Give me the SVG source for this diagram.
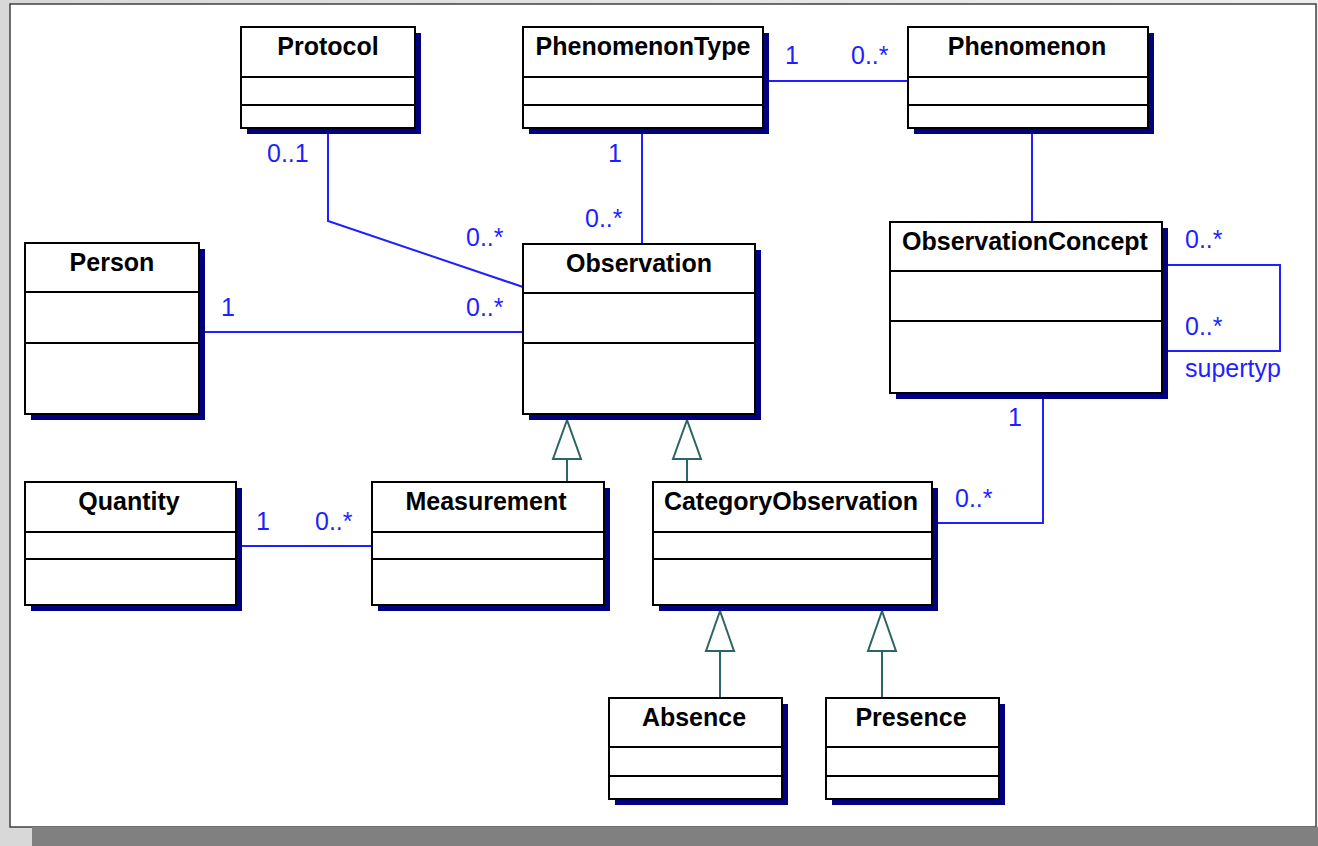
<svg xmlns="http://www.w3.org/2000/svg" width="1318" height="846" viewBox="0 0 1318 846">
<defs>
<linearGradient id="bg" x1="0" y1="0" x2="1" y2="0">
<stop offset="0" stop-color="#d8d8d8"/>
<stop offset="1" stop-color="#eeeeee"/>
</linearGradient>
</defs>
<style>
.box{fill:#ffffff;stroke:#000000;stroke-width:2}
.shd{fill:#000080}
.div{stroke:#000000;stroke-width:2}
.name{font-family:"Liberation Sans",Arial,sans-serif;font-weight:bold;font-size:25px;fill:#000000;text-anchor:middle}
.assoc{fill:none;stroke:#1f1fff;stroke-width:2}
.gen{fill:none;stroke:#2d6464;stroke-width:2}
.tri{fill:#ffffff;stroke:#2d6464;stroke-width:2;stroke-linejoin:miter}
.lbl{font-family:"Liberation Sans",Arial,sans-serif;font-size:25px;fill:#1f1fff}
</style>
<rect x="0" y="0" width="1318" height="846" fill="url(#bg)"/>
<rect x="10" y="4" width="1306" height="823" fill="#ffffff" stroke="#404040" stroke-width="1.5"/>
<rect x="32" y="827" width="1286" height="19" fill="#808080"/>

<g id="connectors">
<path class="assoc" d="M768 81 H908"/>
<path class="assoc" d="M642 133 V244"/>
<path class="assoc" d="M328 133 V221 L523 287"/>
<path class="assoc" d="M204 332 H523"/>
<path class="assoc" d="M1032 133 V222"/>
<path class="assoc" d="M1167 265 H1280 V351 H1167"/>
<path class="assoc" d="M1043 398 V523 H937"/>
<path class="assoc" d="M241 546 H372"/>
<path class="gen" d="M567 459 V482"/>
<polygon class="tri" points="567,420 553,459 581,459"/>
<path class="gen" d="M687 459 V482"/>
<polygon class="tri" points="687,420 673,459 701,459"/>
<path class="gen" d="M720 651 V698"/>
<polygon class="tri" points="720,611 706,651 734,651"/>
<path class="gen" d="M882 651 V698"/>
<polygon class="tri" points="882,611 868,651 896,651"/>
<text class="lbl" x="792" y="64" text-anchor="middle">1</text>
<text class="lbl" x="851" y="64">0..*</text>
<text class="lbl" x="615" y="162" text-anchor="middle">1</text>
<text class="lbl" x="585" y="227">0..*</text>
<text class="lbl" x="267" y="162">0..1</text>
<text class="lbl" x="466" y="246">0..*</text>
<text class="lbl" x="228" y="316" text-anchor="middle">1</text>
<text class="lbl" x="466" y="316">0..*</text>
<text class="lbl" x="1185" y="248">0..*</text>
<text class="lbl" x="1185" y="335">0..*</text>
<text class="lbl" x="1185" y="377">supertyp</text>
<text class="lbl" x="1015" y="426" text-anchor="middle">1</text>
<text class="lbl" x="955" y="507">0..*</text>
<text class="lbl" x="263" y="530" text-anchor="middle">1</text>
<text class="lbl" x="315" y="530">0..*</text>
</g>

<g id="Protocol">
<rect class="shd" x="247" y="33" width="174" height="101"/>
<rect class="box" x="241" y="27" width="174" height="101"/>
<line class="div" x1="241" y1="77" x2="415" y2="77"/>
<line class="div" x1="241" y1="105" x2="415" y2="105"/>
<text class="name" x="328" y="55">Protocol</text>
</g>

<g id="PhenomenonType">
<rect class="shd" x="529" y="33" width="240" height="101"/>
<rect class="box" x="523" y="27" width="240" height="101"/>
<line class="div" x1="523" y1="77" x2="763" y2="77"/>
<line class="div" x1="523" y1="105" x2="763" y2="105"/>
<text class="name" x="643" y="55">PhenomenonType</text>
</g>

<g id="Phenomenon">
<rect class="shd" x="914" y="33" width="240" height="101"/>
<rect class="box" x="908" y="27" width="240" height="101"/>
<line class="div" x1="908" y1="77" x2="1148" y2="77"/>
<line class="div" x1="908" y1="105" x2="1148" y2="105"/>
<text class="name" x="1027" y="55">Phenomenon</text>
</g>

<g id="Person">
<rect class="shd" x="31" y="249" width="174" height="171"/>
<rect class="box" x="25" y="243" width="174" height="171"/>
<line class="div" x1="25" y1="292" x2="199" y2="292"/>
<line class="div" x1="25" y1="343" x2="199" y2="343"/>
<text class="name" x="112" y="271">Person</text>
</g>

<g id="Observation">
<rect class="shd" x="529" y="250" width="232" height="170"/>
<rect class="box" x="523" y="244" width="232" height="170"/>
<line class="div" x1="523" y1="293" x2="755" y2="293"/>
<line class="div" x1="523" y1="343" x2="755" y2="343"/>
<text class="name" x="639" y="272">Observation</text>
</g>

<g id="ObservationConcept">
<rect class="shd" x="896" y="228" width="272" height="171"/>
<rect class="box" x="890" y="222" width="272" height="171"/>
<line class="div" x1="890" y1="271" x2="1162" y2="271"/>
<line class="div" x1="890" y1="321" x2="1162" y2="321"/>
<text class="name" x="1025" y="250">ObservationConcept</text>
</g>

<g id="Quantity">
<rect class="shd" x="31" y="488" width="211" height="123"/>
<rect class="box" x="25" y="482" width="211" height="123"/>
<line class="div" x1="25" y1="532" x2="236" y2="532"/>
<line class="div" x1="25" y1="559" x2="236" y2="559"/>
<text class="name" x="129" y="510">Quantity</text>
</g>

<g id="Measurement">
<rect class="shd" x="378" y="488" width="232" height="123"/>
<rect class="box" x="372" y="482" width="232" height="123"/>
<line class="div" x1="372" y1="532" x2="604" y2="532"/>
<line class="div" x1="372" y1="559" x2="604" y2="559"/>
<text class="name" x="486" y="510">Measurement</text>
</g>

<g id="CategoryObservation">
<rect class="shd" x="659" y="488" width="279" height="123"/>
<rect class="box" x="653" y="482" width="279" height="123"/>
<line class="div" x1="653" y1="532" x2="932" y2="532"/>
<line class="div" x1="653" y1="559" x2="932" y2="559"/>
<text class="name" x="791" y="510">CategoryObservation</text>
</g>

<g id="Absence">
<rect class="shd" x="615" y="704" width="173" height="101"/>
<rect class="box" x="609" y="698" width="173" height="101"/>
<line class="div" x1="609" y1="747" x2="782" y2="747"/>
<line class="div" x1="609" y1="776" x2="782" y2="776"/>
<text class="name" x="694" y="726">Absence</text>
</g>

<g id="Presence">
<rect class="shd" x="832" y="704" width="173" height="101"/>
<rect class="box" x="826" y="698" width="173" height="101"/>
<line class="div" x1="826" y1="747" x2="999" y2="747"/>
<line class="div" x1="826" y1="776" x2="999" y2="776"/>
<text class="name" x="911" y="726">Presence</text>
</g>
</svg>
